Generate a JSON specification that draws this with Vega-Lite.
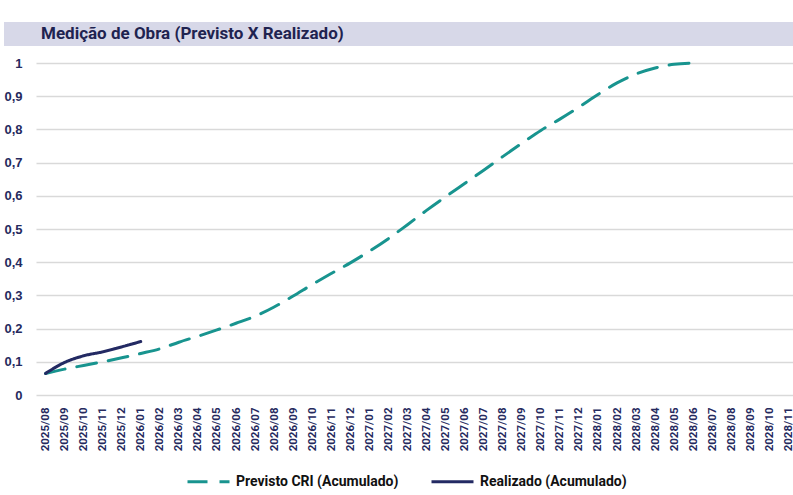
{
  "$schema": "https://vega.github.io/schema/vega-lite/v6.json",
  "background": "white",
  "padding": {"left": 3, "top": 22, "right": 0, "bottom": 0},
  "spacing": 11,
  "config": {
    "view": {"stroke": null},
    "font": "Roboto"
  },
  "vconcat": [
    {
      "width": 790,
      "height": 24,
      "data": {"values": [{"titulo": "Medição de Obra (Previsto X Realizado)"}]},
      "layer": [
        {
          "mark": {"type": "rect", "color": "#d7d8e8", "clip": false},
          "encoding": {
            "x": {"datum": -0.0405, "type": "quantitative", "scale": {"domain": [0, 1]}, "axis": null},
            "x2": {"datum": 1}
          }
        },
        {
          "mark": {"type": "text", "align": "left", "baseline": "middle", "dx": 5, "fontSize": 17, "fontWeight": "bold", "color": "#1f2350", "font": "Roboto"},
          "encoding": {
            "text": {"field": "titulo"},
            "x": {"datum": 0, "type": "quantitative"}
          }
        }
      ]
    },
    {
      "width": 762,
      "height": 332,
      "data": {
        "values": [
          {"mes": "2025/08", "serie": "Previsto CRI (Acumulado)", "valor": 0.065},
          {"mes": "2025/09", "serie": "Previsto CRI (Acumulado)", "valor": 0.078},
          {"mes": "2025/10", "serie": "Previsto CRI (Acumulado)", "valor": 0.089},
          {"mes": "2025/11", "serie": "Previsto CRI (Acumulado)", "valor": 0.100},
          {"mes": "2025/12", "serie": "Previsto CRI (Acumulado)", "valor": 0.112},
          {"mes": "2026/01", "serie": "Previsto CRI (Acumulado)", "valor": 0.125},
          {"mes": "2026/02", "serie": "Previsto CRI (Acumulado)", "valor": 0.139},
          {"mes": "2026/03", "serie": "Previsto CRI (Acumulado)", "valor": 0.159},
          {"mes": "2026/04", "serie": "Previsto CRI (Acumulado)", "valor": 0.177},
          {"mes": "2026/05", "serie": "Previsto CRI (Acumulado)", "valor": 0.196},
          {"mes": "2026/06", "serie": "Previsto CRI (Acumulado)", "valor": 0.216},
          {"mes": "2026/07", "serie": "Previsto CRI (Acumulado)", "valor": 0.237},
          {"mes": "2026/08", "serie": "Previsto CRI (Acumulado)", "valor": 0.265},
          {"mes": "2026/09", "serie": "Previsto CRI (Acumulado)", "valor": 0.298},
          {"mes": "2026/10", "serie": "Previsto CRI (Acumulado)", "valor": 0.333},
          {"mes": "2026/11", "serie": "Previsto CRI (Acumulado)", "valor": 0.366},
          {"mes": "2026/12", "serie": "Previsto CRI (Acumulado)", "valor": 0.398},
          {"mes": "2027/01", "serie": "Previsto CRI (Acumulado)", "valor": 0.433},
          {"mes": "2027/02", "serie": "Previsto CRI (Acumulado)", "valor": 0.471},
          {"mes": "2027/03", "serie": "Previsto CRI (Acumulado)", "valor": 0.513},
          {"mes": "2027/04", "serie": "Previsto CRI (Acumulado)", "valor": 0.556},
          {"mes": "2027/05", "serie": "Previsto CRI (Acumulado)", "valor": 0.597},
          {"mes": "2027/06", "serie": "Previsto CRI (Acumulado)", "valor": 0.637},
          {"mes": "2027/07", "serie": "Previsto CRI (Acumulado)", "valor": 0.677},
          {"mes": "2027/08", "serie": "Previsto CRI (Acumulado)", "valor": 0.718},
          {"mes": "2027/09", "serie": "Previsto CRI (Acumulado)", "valor": 0.758},
          {"mes": "2027/10", "serie": "Previsto CRI (Acumulado)", "valor": 0.797},
          {"mes": "2027/11", "serie": "Previsto CRI (Acumulado)", "valor": 0.831},
          {"mes": "2027/12", "serie": "Previsto CRI (Acumulado)", "valor": 0.867},
          {"mes": "2028/01", "serie": "Previsto CRI (Acumulado)", "valor": 0.905},
          {"mes": "2028/02", "serie": "Previsto CRI (Acumulado)", "valor": 0.940},
          {"mes": "2028/03", "serie": "Previsto CRI (Acumulado)", "valor": 0.967},
          {"mes": "2028/04", "serie": "Previsto CRI (Acumulado)", "valor": 0.985},
          {"mes": "2028/05", "serie": "Previsto CRI (Acumulado)", "valor": 0.996},
          {"mes": "2028/06", "serie": "Previsto CRI (Acumulado)", "valor": 1.000},
          {"mes": "2025/08", "serie": "Realizado (Acumulado)", "valor": 0.065},
          {"mes": "2025/09", "serie": "Realizado (Acumulado)", "valor": 0.098},
          {"mes": "2025/10", "serie": "Realizado (Acumulado)", "valor": 0.118},
          {"mes": "2025/11", "serie": "Realizado (Acumulado)", "valor": 0.130},
          {"mes": "2025/12", "serie": "Realizado (Acumulado)", "valor": 0.145},
          {"mes": "2026/01", "serie": "Realizado (Acumulado)", "valor": 0.161}
        ]
      },
      "mark": {"type": "line", "interpolate": "monotone", "strokeWidth": 3, "strokeCap": "round"},
      "encoding": {
        "x": {
          "field": "mes", "type": "ordinal",
          "scale": {"type": "point", "padding": 0.5, "domain": ["2025/08","2025/09","2025/10","2025/11","2025/12","2026/01","2026/02","2026/03","2026/04","2026/05","2026/06","2026/07","2026/08","2026/09","2026/10","2026/11","2026/12","2027/01","2027/02","2027/03","2027/04","2027/05","2027/06","2027/07","2027/08","2027/09","2027/10","2027/11","2027/12","2028/01","2028/02","2028/03","2028/04","2028/05","2028/06","2028/07","2028/08","2028/09","2028/10","2028/11"]},
          "axis": {"title": null, "labelAngle": -90, "labelFontSize": 11.5, "labelFontWeight": "bold", "labelColor": "#262a5e", "labelPadding": 12, "ticks": false, "domain": false, "grid": false}
        },
        "y": {
          "field": "valor", "type": "quantitative",
          "scale": {"domain": [0, 1], "nice": false},
          "axis": {"title": null, "values": [0,0.1,0.2,0.3,0.4,0.5,0.6,0.7,0.8,0.9,1], "labelExpr": "replace(format(datum.value, '.1~f'), '.', ',')", "labelFont": "Liberation Sans", "labelFontSize": 13, "labelFontWeight": "bold", "labelColor": "#262a5e", "labelPadding": 14, "ticks": false, "domain": false, "gridColor": "#d9d9d9", "gridWidth": 1.3}
        },
        "color": {
          "field": "serie", "type": "nominal",
          "scale": {"domain": ["Previsto CRI (Acumulado)", "Realizado (Acumulado)"], "range": ["#18948f", "#232a63"]},
          "legend": {"title": null, "orient": "none", "legendX": 150, "legendY": 437, "direction": "horizontal", "labelFont": "Roboto", "labelFontSize": 14, "labelFontWeight": "bold", "labelColor": "#111111", "labelLimit": 300, "symbolType": "stroke", "symbolSize": 1764, "symbolStrokeWidth": 3, "columnPadding": 26, "labelOffset": 5}
        },
        "strokeDash": {
          "field": "serie", "type": "nominal",
          "scale": {"domain": ["Previsto CRI (Acumulado)", "Realizado (Acumulado)"], "range": [[20, 12], [1, 0]]},
          "legend": {"title": null, "orient": "none", "legendX": 150, "legendY": 437, "direction": "horizontal", "labelFont": "Roboto", "labelFontSize": 14, "labelFontWeight": "bold", "labelColor": "#111111", "labelLimit": 300, "symbolType": "stroke", "symbolSize": 1764, "symbolStrokeWidth": 3, "columnPadding": 26, "labelOffset": 5}
        }
      }
    }
  ]
}
